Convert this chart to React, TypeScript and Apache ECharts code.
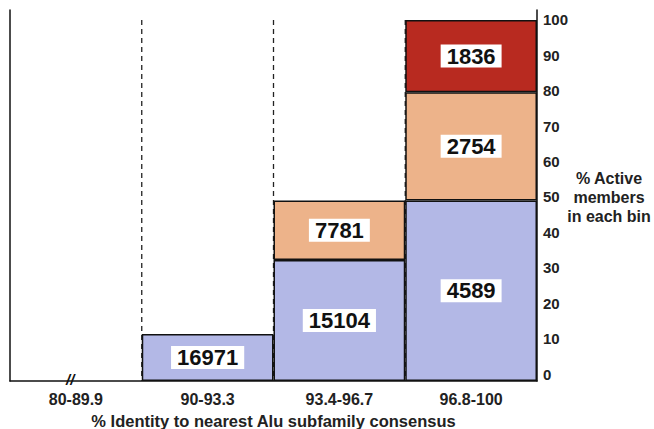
import React, { useEffect, useRef } from "react";
import * as echarts from "echarts";

const categories = ["80-89.9", "90-93.3", "93.4-96.7", "96.8-100"];
const bluePct = [null, 13, 33.5, 50];
const orangePct = [null, null, 16.5, 30];
const redPct = [null, null, null, 20];
const blueCounts = ["", "16971", "15104", "4589"];
const orangeCounts = ["", "", "7781", "2754"];
const redCounts = ["", "", "", "1836"];
const dashCats = ["90-93.3", "93.4-96.7", "96.8-100"];
const yTicks = [0, 10, 20, 30, 40, 50, 60, 70, 80, 90, 100];

const FONT = "'Liberation Sans', Arial, sans-serif";
const YMAX = 102.77;

export default function App() {
  const ref = useRef<HTMLDivElement>(null);
  useEffect(() => {
    const chart = echarts.init(ref.current!, null, { renderer: "svg" });
    const label = (counts: string[]) => ({
      show: true,
      position: "inside",
      formatter: (p: any) => counts[p.dataIndex],
      backgroundColor: "#ffffff",
      color: "#111",
      fontFamily: FONT,
      fontWeight: "bold",
      fontSize: 22,
      padding: [1, 6, 0, 6],
    });
    const barStyle = (color: string) => ({
      color,
      borderColor: "#111",
      borderWidth: 1.5,
    });
    const tickRich: Record<string, any> = {};
    yTicks.forEach((v) => {
      tickRich["t" + v] = {
        color: "#222",
        fontFamily: FONT,
        fontWeight: "bold",
        fontSize: 15,
        padding: [0, 0, Math.round(2 * (7 - 0.07 * v)), 0],
      };
    });
    chart.setOption({
      animation: false,
      backgroundColor: "#ffffff",
      grid: {
        left: 10,
        right: 117,
        top: 10,
        bottom: 48,
        containLabel: false,
        outerBoundsMode: "none",
      },
      xAxis: {
        type: "category",
        data: categories,
        boundaryGap: true,
        axisLine: { show: true, lineStyle: { color: "#111", width: 1.5 } },
        axisTick: { show: false },
        axisLabel: {
          color: "#222",
          fontFamily: FONT,
          fontWeight: "bold",
          fontSize: 16,
          margin: 10,
        },
        splitLine: { show: false },
        name: "% Identity to nearest Alu subfamily consensus",
        nameLocation: "middle",
        nameGap: 31,
        nameTextStyle: {
          color: "#222",
          fontFamily: FONT,
          fontWeight: "bold",
          fontSize: 16.5,
        },
      },
      yAxis: [
        {
          type: "value",
          position: "right",
          min: 0,
          max: YMAX,
          interval: 10,
          axisLine: { show: true, lineStyle: { color: "#111", width: 1.5 } },
          axisTick: { show: false },
          splitLine: { show: false },
          axisLabel: {
            showMaxLabel: false,
            color: "#222",
            fontFamily: FONT,
            fontWeight: "bold",
            fontSize: 15,
            margin: 6,
            formatter: (v: number) => {
              const r = Math.round(v);
              return yTicks.includes(r) ? `{t${r}|${r}}` : "";
            },
            rich: tickRich,
          },
        },
        {
          type: "value",
          position: "left",
          min: 0,
          max: YMAX,
          interval: 10,
          axisLine: { show: true, lineStyle: { color: "#111", width: 1.5 } },
          axisTick: { show: false },
          axisLabel: { show: false },
          splitLine: { show: false },
        },
      ],
      graphic: [
        {
          type: "text",
          x: 609,
          y: 169,
          style: {
            text: "% Active\nmembers\nin each bin",
            fontFamily: FONT,
            fontWeight: "bold",
            fontSize: 16,
            lineHeight: 19,
            fill: "#222",
            align: "center",
            verticalAlign: "top",
          },
        },
        {
          type: "text",
          x: 66,
          y: 372,
          style: {
            text: "//",
            fontFamily: FONT,
            fontWeight: "bold",
            fontStyle: "italic",
            fontSize: 15,
            fill: "#111",
          },
        },
      ],
      series: [
        {
          type: "custom",
          z: 1,
          data: dashCats.map((c) => [c, 100]),
          encode: { x: 0, y: 1 },
          renderItem: (params: any, api: any) => {
            const idx = api.value(0);
            const top = api.coord([idx, 100]);
            const bot = api.coord([idx, 0]);
            const w = api.size([1, 0])[0];
            const x = top[0] - w / 2;
            return {
              type: "line",
              shape: { x1: x, y1: top[1], x2: x, y2: bot[1] },
              style: { stroke: "#222", lineWidth: 1.3, lineDash: [5, 4] },
            };
          },
        },
        {
          type: "bar",
          stack: "s",
          z: 2,
          barWidth: "100%",
          data: bluePct,
          itemStyle: barStyle("#b3b8e6"),
          label: label(blueCounts),
        },
        {
          type: "bar",
          stack: "s",
          z: 2,
          barWidth: "100%",
          data: orangePct,
          itemStyle: barStyle("#edb38a"),
          label: label(orangeCounts),
        },
        {
          type: "bar",
          stack: "s",
          z: 2,
          barWidth: "100%",
          data: redPct,
          itemStyle: barStyle("#b82a20"),
          label: label(redCounts),
        },
      ],
    });
    return () => chart.dispose();
  }, []);
  return (
    <div
      ref={ref}
      style={{ position: "fixed", left: 0, top: 0, width: 654, height: 429 }}
    />
  );
}
